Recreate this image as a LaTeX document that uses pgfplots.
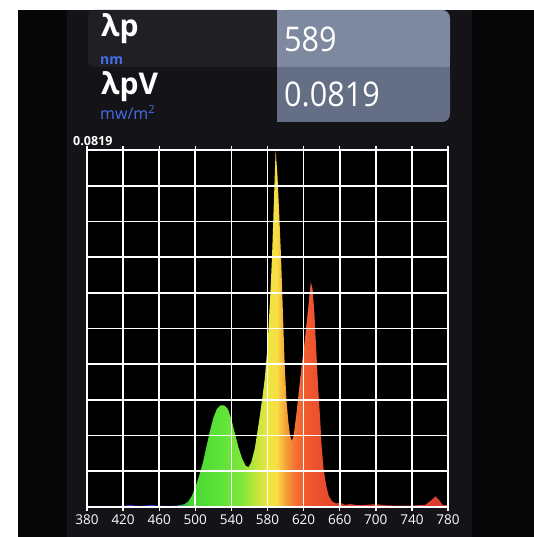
\documentclass[border=0pt]{standalone}
\usepackage{fontspec}
\setmainfont{Open Sans}
\newfontfamily\narrowfont[FakeStretch=0.9]{Open Sans}
\usepackage{pgfplots}
\pgfplotsset{compat=1.18}

\definecolor{panel}{RGB}{20,20,24}
\definecolor{outer}{RGB}{6,6,6}
\definecolor{headdark}{RGB}{32,32,36}
\definecolor{boxone}{RGB}{126,136,158}
\definecolor{boxtwo}{RGB}{100,110,132}
\definecolor{unitblue}{RGB}{70,110,235}

% spectrum colours, position = 25bp + (lambda-380)/8
\definecolor{s380}{RGB}{90,40,200}
\definecolor{s470}{RGB}{40,60,230}
\definecolor{s485}{RGB}{40,170,90}
\definecolor{s495}{RGB}{70,215,50}
\definecolor{s530}{RGB}{95,228,55}
\definecolor{s550}{RGB}{125,230,58}
\definecolor{s565}{RGB}{185,230,58}
\definecolor{s580}{RGB}{235,230,65}
\definecolor{s590}{RGB}{248,222,66}
\definecolor{s600}{RGB}{246,160,58}
\definecolor{s612}{RGB}{242,108,50}
\definecolor{s625}{RGB}{240,88,46}
\definecolor{s660}{RGB}{225,65,42}
\definecolor{s780}{RGB}{215,60,48}
\pgfdeclarehorizontalshading{spectrum}{100bp}{
  color(0bp)=(s380); color(25bp)=(s380); color(36.25bp)=(s470);
  color(38.125bp)=(s485); color(39.375bp)=(s495); color(43.75bp)=(s530);
  color(46.25bp)=(s550); color(48.125bp)=(s565); color(50bp)=(s580);
  color(51.25bp)=(s590); color(52.5bp)=(s600); color(54bp)=(s612);
  color(55.625bp)=(s625); color(60bp)=(s660); color(75bp)=(s780);
  color(100bp)=(s780)}

\begin{document}
\begin{tikzpicture}[x=1pt,y=1pt]
\useasboundingbox (0,0) rectangle (534,537);
% screen photo background
\fill[white] (0,0) rectangle (534,537);
\fill[outer] (18,0) rectangle (534,527);
\fill[panel] (67,0) rectangle (472,527);
% header
\fill[headdark, rounded corners=6pt] (88,470) -- (88,527) -- (280,527) -- (280,470) -- cycle;
\fill[boxone, rounded corners=8pt] (277,470) -- (277,527) -- (450,527) -- (450,470) -- cycle;
\fill[boxone] (277,470) rectangle (300,527);
\fill[boxone] (277,470) rectangle (450,480);
\fill[boxtwo, rounded corners=8pt] (277,415) -- (277,470) -- (450,470) -- (450,415) -- cycle;
\fill[boxtwo] (277,455) rectangle (450,470);
\fill[boxtwo] (277,415) rectangle (300,470);
\node[anchor=base west, inner sep=0, text=white, font=\bfseries\fontsize{30}{30}\selectfont] at (101,500) {λp};
\node[anchor=base west, inner sep=0, text=unitblue, font=\bfseries\fontsize{14}{14}\selectfont] at (100,472) {nm};
\node[anchor=base west, inner sep=0, text=white, font=\bfseries\fontsize{30}{30}\selectfont] at (101,442) {λpV};
\node[anchor=base west, inner sep=0, text=unitblue, font=\fontsize{16}{16}\selectfont] at (100,417) {mw/m\textsuperscript{2}};
\node[anchor=base west, inner sep=0, text=white, font=\narrowfont\fontsize{34}{34}\selectfont] at (284,485) {589};
\node[anchor=base west, inner sep=0, text=white, font=\narrowfont\fontsize{34}{34}\selectfont] at (284,430) {0.0819};
\node[anchor=base west, inner sep=0, text=white, font=\bfseries\fontsize{12.5}{12.5}\selectfont] at (73,391) {0.0819};

\begin{axis}[
  at={(87pt,30pt)}, anchor=south west,
  scale only axis, width=361pt, height=357pt,
  xmin=380, xmax=780, ymin=0, ymax=0.0819,
  xtick={380,420,...,780},
  ytick={0.00819,0.01638,0.02457,0.03276,0.04095,0.04914,0.05733,0.06552,0.07371},
  yticklabels={},
  scaled y ticks=false,
  ytick style={draw=none},
  xtick style={white, line width=1.4pt},
  tick align=outside, major tick length=4pt,
  grid=major,
  grid style={white, line width=1.7pt},
  axis line style={white, line width=2pt},
  axis on top,
  axis background/.style={fill=black},
  tick label style={white, font=\fontsize{13.5}{13.5}\selectfont},
  /pgf/number format/assume math mode=true,
  /pgf/number format/1000 sep={},
]
\addplot[draw=none, shading=spectrum, shading angle=0] table {
x y
380 0.00016
400 0.00016
420 0.00025
428 0.00049
432 0.00033
440 0.00025
452 0.00049
458 0.00033
470 0.00025
480 0.00033
488 0.00066
492 0.00123
496 0.00246
500 0.00450
504 0.00696
508 0.00983
512 0.01351
516 0.01720
520 0.02048
524 0.02252
528 0.02334
532 0.02334
536 0.02252
540 0.02007
544 0.01679
548 0.01351
552 0.01106
556 0.00942
559 0.00917
562 0.01024
566 0.01351
570 0.01884
574 0.02457
577 0.02948
580 0.03686
583 0.04832
585 0.05733
587 0.06962
589 0.0819
591 0.07617
593 0.06716
595 0.05733
597 0.04505
599 0.03276
601 0.02457
603 0.01966
605 0.01638
607 0.01515
609 0.01638
612 0.02129
615 0.02703
618 0.03276
621 0.03767
624 0.04341
626 0.04750
628 0.05160
630 0.04996
632 0.04423
634 0.03604
636 0.02785
638 0.02129
640 0.01392
642 0.00901
645 0.00491
648 0.00246
652 0.00123
656 0.00082
660 0.00098
666 0.00049
672 0.00066
680 0.00041
690 0.00049
700 0.00066
710 0.00041
720 0.00033
740 0.00033
755 0.00049
762 0.00164
766 0.00246
770 0.00164
774 0.00049
780 0.00033
} \closedcycle;
\end{axis}
\end{tikzpicture}
\end{document}
